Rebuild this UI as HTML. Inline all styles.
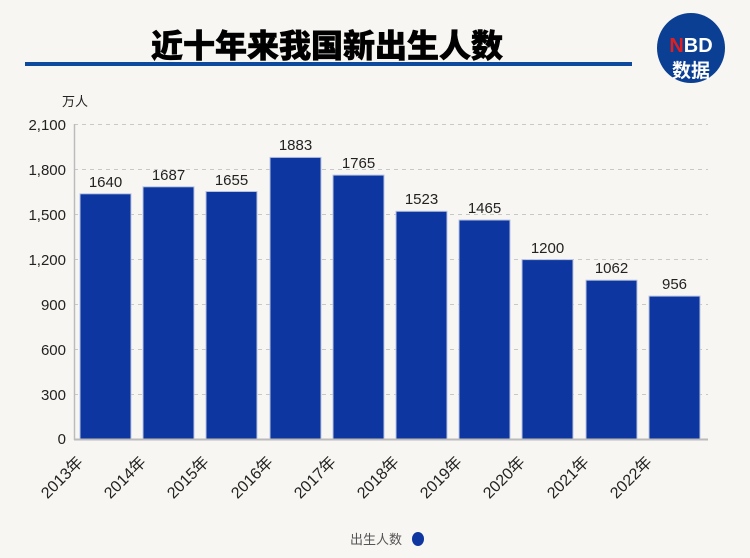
<!DOCTYPE html>
<html><head><meta charset="utf-8"><style>
body{margin:0;background:#f8f6f2;}
svg{display:block;font-family:"Liberation Sans","Noto Sans CJK SC",sans-serif;}
</style></head><body>
<svg width="750" height="558" viewBox="0 0 750 558" xmlns="http://www.w3.org/2000/svg">
<rect width="750" height="558" fill="#f8f6f2"/>
<text x="327" y="57" text-anchor="middle" font-size="32" font-weight="900" fill="#000" stroke="#000" stroke-width="0.6" font-family="'Noto Sans CJK SC',sans-serif">近十年来我国新出生人数</text>
<rect x="25" y="62" width="607" height="4" fill="#0d4a9e"/>
<ellipse cx="691" cy="48" rx="34" ry="35" fill="#0b3f93"/>
<text x="691" y="52" text-anchor="middle" font-size="20" font-weight="bold" fill="#fff"><tspan fill="#e02020">N</tspan>BD</text>
<text x="691" y="77" text-anchor="middle" font-size="19" font-weight="bold" fill="#fff" font-family="'Noto Sans CJK SC',sans-serif">数据</text>
<text x="62" y="106" font-size="13" fill="#222" font-family="'Noto Sans CJK SC',sans-serif">万人</text>
<g stroke="#c8c8c8" stroke-dasharray="4,4" stroke-width="1">
<line x1="74" x2="708" y1="124.5" y2="124.5"/><line x1="74" x2="708" y1="169.5" y2="169.5"/>
<line x1="74" x2="708" y1="214.5" y2="214.5"/><line x1="74" x2="708" y1="259.5" y2="259.5"/>
<line x1="74" x2="708" y1="304.5" y2="304.5"/><line x1="74" x2="708" y1="349.5" y2="349.5"/>
<line x1="74" x2="708" y1="394.5" y2="394.5"/>
</g>
<g font-size="15" fill="#222" text-anchor="end">
<text x="66" y="130">2,100</text><text x="66" y="175">1,800</text><text x="66" y="220">1,500</text>
<text x="66" y="265">1,200</text><text x="66" y="310">900</text><text x="66" y="355">600</text>
<text x="66" y="400">300</text><text x="66" y="444">0</text>
</g>
<g fill="#0d36a0" stroke="#b8c4e0" stroke-width="1">
<rect x="80" y="193.8" width="51" height="245.2"/>
<rect x="143" y="186.8" width="51" height="252.2"/>
<rect x="206" y="191.5" width="51" height="247.5"/>
<rect x="270" y="157.4" width="51" height="281.6"/>
<rect x="333" y="175.1" width="51" height="263.9"/>
<rect x="396" y="211.3" width="51" height="227.7"/>
<rect x="459" y="220" width="51" height="219"/>
<rect x="522" y="259.6" width="51" height="179.4"/>
<rect x="586" y="280.2" width="51" height="158.8"/>
<rect x="649" y="296.1" width="51" height="142.9"/>
</g>
<g font-size="15" fill="#222" text-anchor="middle">
<text x="105.5" y="187">1640</text><text x="168.5" y="180">1687</text><text x="231.5" y="185">1655</text>
<text x="295.5" y="150">1883</text><text x="358.5" y="168">1765</text><text x="421.5" y="204">1523</text>
<text x="484.5" y="213">1465</text><text x="547.5" y="253">1200</text><text x="611.5" y="273">1062</text>
<text x="674.5" y="289">956</text>
</g>
<line x1="74.5" y1="124" x2="74.5" y2="440" stroke="#bbb" stroke-width="1.5"/>
<line x1="74" y1="439.5" x2="708" y2="439.5" stroke="#bbb" stroke-width="2"/>
<g font-size="16" fill="#222" text-anchor="end" font-family="'Liberation Sans','Noto Sans CJK SC',sans-serif">
<text transform="translate(84,463) rotate(-45)">2013年</text>
<text transform="translate(147,463) rotate(-45)">2014年</text>
<text transform="translate(210,463) rotate(-45)">2015年</text>
<text transform="translate(274,463) rotate(-45)">2016年</text>
<text transform="translate(337,463) rotate(-45)">2017年</text>
<text transform="translate(400,463) rotate(-45)">2018年</text>
<text transform="translate(463,463) rotate(-45)">2019年</text>
<text transform="translate(526,463) rotate(-45)">2020年</text>
<text transform="translate(590,463) rotate(-45)">2021年</text>
<text transform="translate(653,463) rotate(-45)">2022年</text>
</g>
<text x="350" y="544" font-size="13" fill="#555" font-family="'Noto Sans CJK SC',sans-serif">出生人数</text>
<ellipse cx="418" cy="539" rx="6" ry="7" fill="#0d36a0"/>
</svg>
</body></html>
